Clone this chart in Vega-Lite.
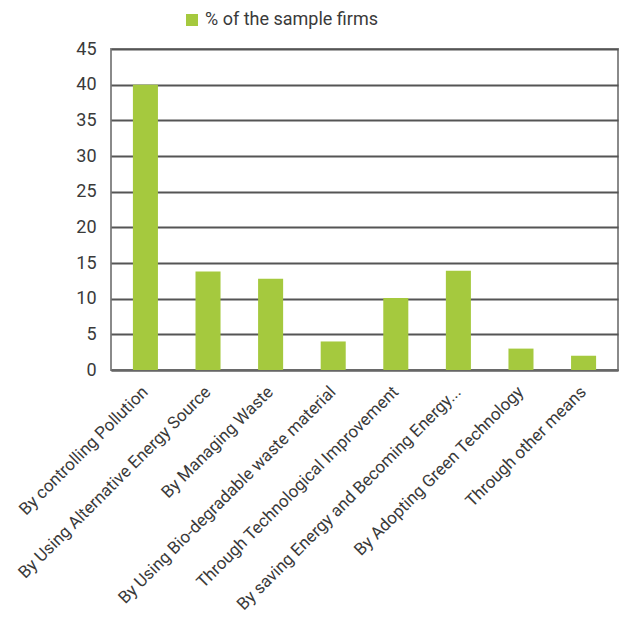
{
  "$schema": "https://vega.github.io/schema/vega-lite/v6.json",
  "autosize": "none",
  "width": 507,
  "height": 321,
  "padding": {"left": 111, "top": 49, "right": 3, "bottom": 249},
  "background": "white",
  "config": {
    "font": "Roboto",
    "view": {"stroke": "#8a8a8a", "strokeWidth": 2}
  },
  "data": {
    "values": [
      {"way": "By controlling Pollution", "pct": 40},
      {"way": "By Using Alternative Energy Source", "pct": 13.8},
      {"way": "By Managing Waste", "pct": 12.8},
      {"way": "By Using Bio-degradable waste material", "pct": 4},
      {"way": "Through Technological Improvement", "pct": 10.1},
      {"way": "By saving Energy and Becoming Energy...", "pct": 13.9},
      {"way": "By Adopting Green Technology", "pct": 3},
      {"way": "Through other means", "pct": 2}
    ]
  },
  "mark": {"type": "bar"},
  "encoding": {
    "x": {
      "field": "way",
      "type": "nominal",
      "sort": null,
      "scale": {"paddingInner": 0.6, "paddingOuter": 0.35},
      "axis": {
        "title": null,
        "labelAngle": -45,
        "labelAlign": "right",
        "labelBaseline": "middle",
        "labelFontSize": 17,
        "labelColor": "#3a3a3a",
        "labelOverlap": false,
        "labelPadding": 19,
        "labelLimit": 400,
        "ticks": false,
        "domainColor": "#666666",
        "domainWidth": 2
      }
    },
    "y": {
      "field": "pct",
      "type": "quantitative",
      "scale": {"domain": [0, 45], "nice": false},
      "axis": {
        "title": null,
        "values": [0, 5, 10, 15, 20, 25, 30, 35, 40, 45],
        "labelFontSize": 18,
        "labelColor": "#3a3a3a",
        "labelPadding": 15,
        "ticks": false,
        "domain": false,
        "gridColor": "#555555",
        "gridWidth": 2,
        "gridOpacity": 1
      }
    },
    "color": {
      "datum": "% of the sample firms",
      "type": "nominal",
      "scale": {"range": ["#a5c93e"]},
      "legend": {
        "title": null,
        "orient": "none",
        "legendX": 72,
        "legendY": -38,
        "padding": 0,
        "symbolType": "square",
        "symbolSize": 144,
        "symbolStrokeWidth": 0,
        "labelFontSize": 18,
        "labelLimit": 400,
        "labelColor": "#3a3a3a",
        "labelOffset": 4
      }
    }
  }
}
